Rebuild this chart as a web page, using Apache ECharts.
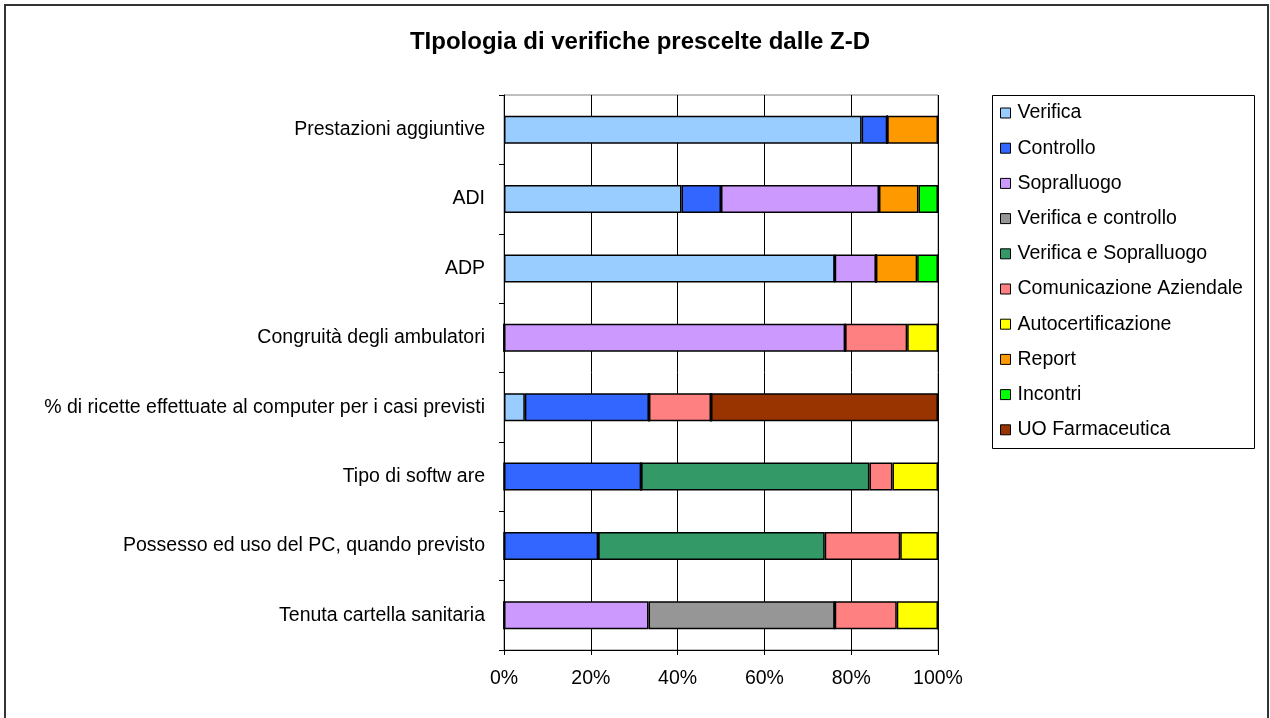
<!DOCTYPE html>
<html>
<head>
<meta charset="utf-8">
<script src="https://cdn.jsdelivr.net/npm/echarts@6/dist/echarts.min.js"></script>
<style>
  html, body { margin: 0; padding: 0; background: #fff; }
  #chart { width: 1270px; height: 718px; }
</style>
</head>
<body>
<div id="chart"></div>
<script>
// categorie (dall'alto verso il basso)
const categories = [
  'Prestazioni aggiuntive',
  'ADI',
  'ADP',
  'Congruità degli ambulatori',
  '% di ricette effettuate al computer per i casi previsti',
  'Tipo di softw are',
  'Possesso ed uso del PC, quando previsto',
  'Tenuta cartella sanitaria'
]

// quote percentuali
const verifica       = [82.4, 40.9, 76.2, 0,    4.8,  0,    0,    0]
const controllo      = [5.9,  9.1,  0,    0,    28.6, 31.6, 21.7, 0]
const sopralluogo    = [0,    36.4, 9.5,  78.6, 0,    0,    0,    33.3]
const verContr       = [0,    0,    0,    0,    0,    0,    0,    42.9]
const verSopr        = [0,    0,    0,    0,    0,    52.6, 52.2, 0]
const comunicazione  = [0,    0,    0,    14.3, 14.3, 5.3,  17.4, 14.3]
const autocert       = [0,    0,    0,    7.1,  0,    10.5, 8.7,  9.5]
const report         = [11.7, 9.1,  9.5,  0,    0,    0,    0,    0]
const incontri       = [0,    4.5,  4.8,  0,    0,    0,    0,    0]
const uoFarmaceutica = [0,    0,    0,    0,    52.3, 0,    0,    0]

const xTicks = [0, 20, 40, 60, 80, 100]

const seriesDefs = [
  { name: 'Verifica', data: verifica, color: '#99CCFF' },
  { name: 'Controllo', data: controllo, color: '#3366FF' },
  { name: 'Sopralluogo', data: sopralluogo, color: '#CC99FF' },
  { name: 'Verifica e controllo', data: verContr, color: '#969696' },
  { name: 'Verifica e Sopralluogo', data: verSopr, color: '#339966' },
  { name: 'Comunicazione Aziendale', data: comunicazione, color: '#FF8080' },
  { name: 'Autocertificazione', data: autocert, color: '#FFFF00' },
  { name: 'Report', data: report, color: '#FF9900' },
  { name: 'Incontri', data: incontri, color: '#00FF00' },
  { name: 'UO Farmaceutica', data: uoFarmaceutica, color: '#993300' }
]

const FONT = '"Liberation Sans", Arial, sans-serif'
const FS = 19.5

const chart = echarts.init(document.getElementById('chart'))

chart.setOption({
  animation: false,
  backgroundColor: '#fff',
  textStyle: { fontFamily: FONT },
  title: {
    text: 'TIpologia di verifiche prescelte dalle Z-D',
    left: 640,
    top: 30,
    padding: 0,
    textAlign: 'center',
    textStyle: { fontFamily: FONT, fontSize: 24, fontWeight: 'bold', color: '#000' }
  },
  graphic: [
    {
      type: 'rect',
      z: -1,
      shape: { x: 5, y: 5, width: 1263, height: 720 },
      style: { fill: 'none', stroke: '#333', lineWidth: 2 }
    },
    {
      type: 'rect',
      shape: { x: 992.5, y: 95.5, width: 262, height: 353 },
      style: { fill: 'none', stroke: '#000', lineWidth: 1 }
    }
  ],
  legend: {
    orient: 'vertical',
    left: 995,
    top: 103,
    padding: [0, 5],
    itemWidth: 10,
    itemHeight: 10,
    itemGap: 15.2,
    icon: 'rect',
    itemStyle: { borderColor: '#000', borderWidth: 1 },
    textStyle: { fontFamily: FONT, fontSize: FS, color: '#000', lineHeight: 20, padding: [0, 0, 0, 2] },
    data: seriesDefs.map(s => s.name)
  },
  grid: {
    left: 504,
    right: 332,
    top: 95,
    bottom: 68,
    show: true,
    borderColor: '#808080',
    borderWidth: 1
  },
  xAxis: {
    type: 'value',
    min: xTicks[0],
    max: xTicks[xTicks.length - 1],
    interval: 20,
    axisLine: { show: true, lineStyle: { color: '#000' } },
    axisTick: { show: true, length: 5, lineStyle: { color: '#000' } },
    axisLabel: {
      formatter: '{value}%',
      fontFamily: FONT,
      fontSize: FS,
      color: '#000',
      margin: 19
    },
    splitLine: { show: true, lineStyle: { color: '#000', width: 1 } }
  },
  yAxis: {
    type: 'category',
    inverse: true,
    data: categories,
    axisLine: { show: true, lineStyle: { color: '#000' } },
    axisTick: { show: true, length: 5, lineStyle: { color: '#000' } },
    axisLabel: {
      fontFamily: FONT,
      fontSize: FS,
      color: '#000',
      margin: 19
    }
  },
  series: seriesDefs.map(s => ({
    name: s.name,
    type: 'bar',
    stack: 'tot',
    barWidth: 28,
    data: s.data,
    itemStyle: { color: s.color, borderColor: '#000', borderWidth: 1.5 }
  }))
})
</script>
</body>
</html>
